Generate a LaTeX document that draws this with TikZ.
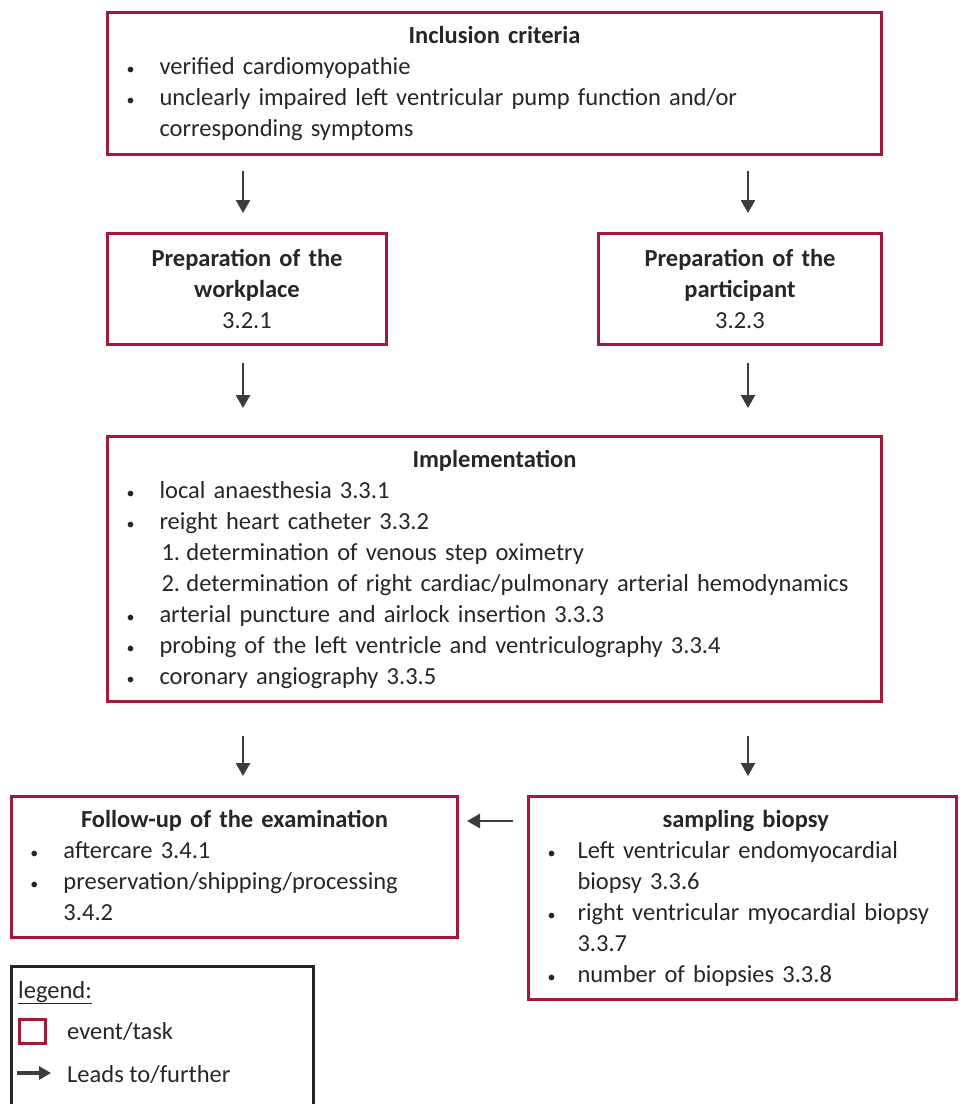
\documentclass[tikz,border=0pt]{standalone}
\usepackage{fontspec}
\setmainfont{Carlito}
\usetikzlibrary{arrows.meta}
\definecolor{boxred}{RGB}{166,24,58}
\definecolor{arrgray}{RGB}{60,60,60}
\definecolor{txt}{RGB}{38,38,38}
\newcommand\smbul{{\fontsize{16}{16}\selectfont\textbullet}}
\newcommand\bli[2][52pt]{\par\noindent\strut\makebox[#1][l]{\hspace*{19pt}\smbul}#2}
\newcommand\cli[2][52pt]{\par\noindent\strut\hspace*{#1}#2}
\newcommand\nli[2]{\par\noindent\strut\makebox[79pt][l]{\hspace*{54pt}#1}#2}
\newcommand\ttl[1]{\par\noindent\strut\makebox[\linewidth][c]{\bfseries #1}}
\newcommand\liftup{\par\vspace*{8pt}}
\begin{document}
\begin{tikzpicture}[x=1pt,y=-1pt,
  every node/.style={text=txt,font=\fontsize{24.5}{31}\selectfont},
  box/.style={draw=boxred,line width=3pt,inner sep=0pt,anchor=north west},
  arr/.style={draw=arrgray,line width=2.6pt,-{Triangle[length=13pt,width=14pt]}},
  ]
\useasboundingbox (0,0) rectangle (962,1104);
\node[box,text width=774pt,minimum height=142pt] (inc) at (106,11) {%
  \ttl{Inclusion criteria}%
  \bli{verified cardiomyopathie}%
  \bli{unclearly impaired left ventricular pump function and/or}%
  \cli{corresponding symptoms}\liftup};
\node[box,text width=279pt,minimum height=111pt,align=center] (wp) at (106,232) {%
  \textbf{Preparation of the}\\\textbf{workplace}\\3.2.1};
\node[box,text width=283pt,minimum height=111pt,align=center] (pp) at (597,232) {%
  \textbf{Preparation of the}\\\textbf{participant}\\3.2.3};
\node[box,text width=774pt,minimum height=262pt] (imp) at (106,435) {%
  \ttl{Implementation}%
  \bli{local anaesthesia 3.3.1}%
  \bli{reight heart catheter 3.3.2}%
  \nli{1.}{determination of venous step oximetry}%
  \nli{2.}{determination of right cardiac/pulmonary arterial hemodynamics}%
  \bli{arterial puncture and airlock insertion 3.3.3}%
  \bli{probing of the left ventricle and ventriculography 3.3.4}%
  \bli{coronary angiography 3.3.5}\liftup};
\node[box,text width=446pt,minimum height=140pt] (fu) at (10,795) {%
  \ttl{Follow-up of the examination}%
  \bli{aftercare 3.4.1}%
  \bli{preservation/shipping/processing}%
  \cli{3.4.2}\liftup};
\node[box,text width=428pt,minimum height=202pt] (sb) at (527,795) {%
  \par\noindent\strut\hspace*{134pt}\textbf{sampling biopsy}%
  \bli[49pt]{Left ventricular endomyocardial}%
  \cli[49pt]{biopsy 3.3.6}%
  \bli[49pt]{right ventricular myocardial biopsy}%
  \cli[49pt]{3.3.7}%
  \bli[49pt]{number of biopsies 3.3.8}\liftup};
% arrows
\draw[arr,shorten <=15pt,shorten >=19pt] (inc.south -| 243,0) -- (wp.north -| 243,0);
\draw[arr,shorten <=15pt,shorten >=19pt] (inc.south -| 748,0) -- (pp.north -| 748,0);
\draw[arr,shorten <=17pt,shorten >=27pt] (wp.south -| 243,0) -- (imp.north -| 243,0);
\draw[arr,shorten <=17pt,shorten >=27pt] (pp.south -| 748,0) -- (imp.north -| 748,0);
\draw[arr,shorten <=33pt,shorten >=19pt] (imp.south -| 243,0) -- (fu.north -| 243,0);
\draw[arr,shorten <=33pt,shorten >=19pt] (imp.south -| 748,0) -- (sb.north -| 748,0);
\draw[arr,shorten <=14pt,shorten >=8pt] (sb.west |- 0,821) -- (fu.east |- 0,821);
% legend
\node[draw=black!85,line width=3pt,anchor=north west,minimum width=302pt,minimum height=160pt,inner sep=0pt] (leg) at (10,965) {};
\node[anchor=base west,inner sep=0pt] (legt) at (18,998) {\underline{legend:}};
\node[draw=boxred,line width=3pt,minimum width=26pt,minimum height=24pt,inner sep=0pt,anchor=north west] (legbox) at (18,1018) {};
\node[anchor=base west,inner sep=0pt] (legbt) at (67,1039) {event/task};
\node[anchor=base west,inner sep=0pt] (legat) at (67,1082) {Leads to/further};
\coordinate (legas) at (17,1073);
\draw[arr,line width=3.5pt,-{Triangle[length=12pt,width=13pt]},shorten >=16pt] (legas) -- (legat.west |- legas);
\end{tikzpicture}
\end{document}
